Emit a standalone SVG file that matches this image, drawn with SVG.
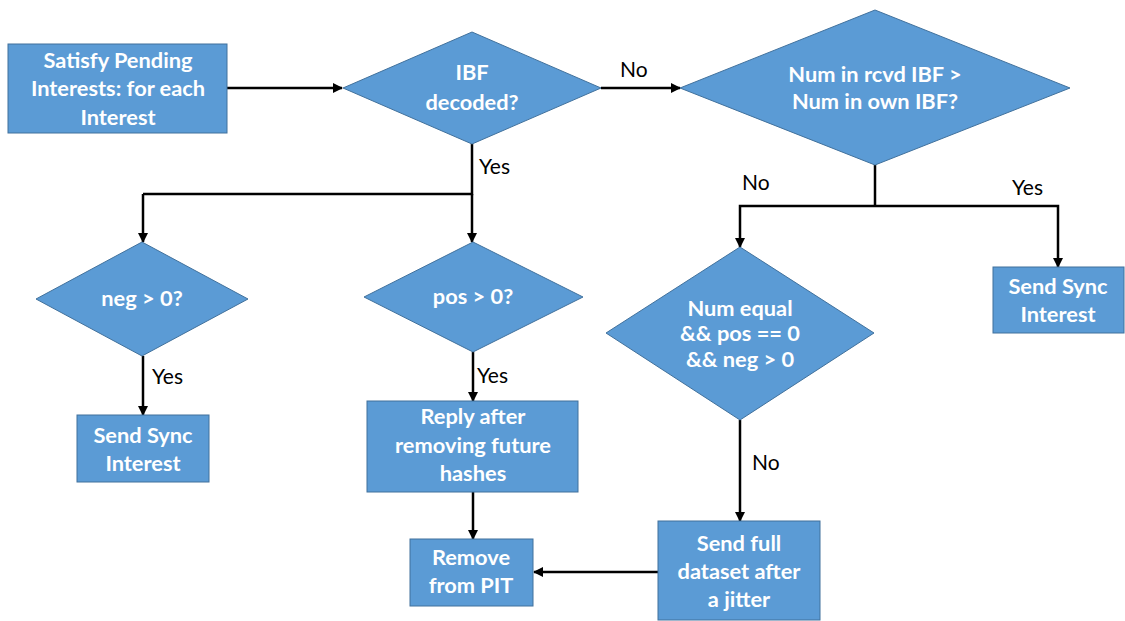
<svg xmlns="http://www.w3.org/2000/svg" width="1125" height="621" viewBox="0 0 1125 621">
  <defs>
    <marker id="arrow" viewBox="0 0 10 10" refX="9" refY="5" markerWidth="4" markerHeight="4" orient="auto" markerUnits="strokeWidth">
      <path d="M0,0 L10,5 L0,10 z" fill="#000"/>
    </marker>
    <style>
      .shape { fill: #5B9BD5; stroke: #41719C; stroke-width: 1; }
      .t { font-family: Lato, "Liberation Sans", sans-serif; font-weight: bold; font-size: 21.8px; fill: #fff; text-anchor: middle; }
      .lbl { font-family: Lato, "Liberation Sans", sans-serif; font-size: 21px; fill: #000; }
      .wire { fill: none; stroke: #000; stroke-width: 2.5; }
      .arr { marker-end: url(#arrow); }
    </style>
  </defs>
  <rect width="1125" height="621" fill="#fff"/>

  <!-- connectors -->
  <g id="connectors">
    <path class="wire arr" d="M227,88 H342"/>
    <path class="wire arr" d="M601,88 H680"/>
    <path class="wire" d="M472,144 V194 H143"/>
    <path class="wire arr" d="M143,194 V242"/>
    <path class="wire arr" d="M472,194 V242"/>
    <path class="wire arr" d="M143,356 V415"/>
    <path class="wire arr" d="M473,352 V401"/>
    <path class="wire arr" d="M473,492 V539"/>
    <path class="wire" d="M875,165 V206"/>
    <path class="wire arr" d="M875,206 H740 V247"/>
    <path class="wire arr" d="M875,206 H1058 V267"/>
    <path class="wire arr" d="M740,420 V521"/>
    <path class="wire arr" d="M658,572 H534"/>
    <text class="lbl" x="620" y="77">No</text>
    <text class="lbl" x="479" y="174">Yes</text>
    <text class="lbl" x="742" y="190">No</text>
    <text class="lbl" x="1012" y="195">Yes</text>
    <text class="lbl" x="152" y="384">Yes</text>
    <text class="lbl" x="477" y="383">Yes</text>
    <text class="lbl" x="752" y="470">No</text>
  </g>

  <g id="satisfy">
    <rect class="shape" x="8" y="44" width="219" height="89"/>
    <text class="t" x="118" y="68">Satisfy Pending</text>
    <text class="t" x="118" y="96">Interests: for each</text>
    <text class="t" x="118" y="125">Interest</text>
  </g>

  <g id="ibf-decoded">
    <polygon class="shape" points="472,32 601,88 472,144 343,88"/>
    <text class="t" x="472" y="80">IBF</text>
    <text class="t" x="472" y="110">decoded?</text>
  </g>

  <g id="num-compare">
    <polygon class="shape" points="875,10 1070,88 875,165 680,88"/>
    <text class="t" x="875" y="82">Num in rcvd IBF &gt;</text>
    <text class="t" x="875" y="109">Num in own IBF?</text>
  </g>

  <g id="neg-check">
    <polygon class="shape" points="142,242 248,299 142,356 36,299"/>
    <text class="t" x="142" y="306">neg &gt; 0?</text>
  </g>

  <g id="send-sync-left">
    <rect class="shape" x="77" y="415" width="132" height="67"/>
    <text class="t" x="143" y="443">Send Sync</text>
    <text class="t" x="143" y="471">Interest</text>
  </g>

  <g id="pos-check">
    <polygon class="shape" points="473,242 583,297 473,352 364,297"/>
    <text class="t" x="473" y="304">pos &gt; 0?</text>
  </g>

  <g id="reply">
    <rect class="shape" x="367" y="401" width="211" height="91"/>
    <text class="t" x="473" y="424">Reply after</text>
    <text class="t" x="473" y="453">removing future</text>
    <text class="t" x="473" y="481">hashes</text>
  </g>

  <g id="remove-pit">
    <rect class="shape" x="410" y="539" width="123" height="67"/>
    <text class="t" x="471" y="565">Remove</text>
    <text class="t" x="471" y="593">from PIT</text>
  </g>

  <g id="num-equal">
    <polygon class="shape" points="740,247 874,333 740,420 606,333"/>
    <text class="t" x="740" y="316">Num equal</text>
    <text class="t" x="740" y="341">&amp;&amp; pos == 0</text>
    <text class="t" x="740" y="367">&amp;&amp; neg &gt; 0</text>
  </g>

  <g id="send-sync-right">
    <rect class="shape" x="993" y="267" width="131" height="66"/>
    <text class="t" x="1058" y="294">Send Sync</text>
    <text class="t" x="1058" y="322">Interest</text>
  </g>

  <g id="send-full">
    <rect class="shape" x="658" y="521" width="162" height="99"/>
    <text class="t" x="739" y="551">Send full</text>
    <text class="t" x="739" y="579">dataset after</text>
    <text class="t" x="739" y="607">a jitter</text>
  </g>
</svg>
